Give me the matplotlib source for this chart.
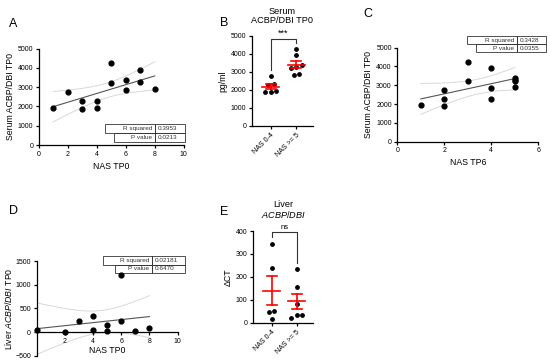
import numpy as np
import matplotlib
matplotlib.use('Agg')
import matplotlib.pyplot as plt
from matplotlib.patches import Rectangle

plt.rcParams['font.family'] = ['Liberation Sans', 'DejaVu Sans']
plt.rcParams['mathtext.fontset'] = 'custom'
plt.rcParams['mathtext.it'] = 'Liberation Sans:italic'
plt.rcParams['mathtext.rm'] = 'Liberation Sans'

# ---- data ----
# A: serum ACBP/DBI TP0 vs NAS TP0
nasA = [1, 2, 3, 3, 4, 4, 5, 5, 6, 6, 7, 7, 8]
serumA = [1940, 2750, 2300, 1890, 2270, 1900, 4250, 3220, 3390, 2840, 3910, 3270, 2890]
statsA = ['0.3953', '0.0213']

# C: serum ACBP/DBI TP0 vs NAS TP6
nasC = [1, 2, 2, 2, 3, 3, 4, 4, 4, 5, 5, 5, 5]
serumC = [1940, 2760, 2290, 1880, 4250, 3230, 3920, 2840, 2270, 3400, 3300, 3250, 2900]
statsC = ['0.3428', '0.0355']

# D: liver ACBP/DBI TP0 vs NAS TP0
nasD = [0, 2, 3, 4, 4, 5, 5, 6, 6, 7, 8]
liverD = [45, 10, 232, 338, 45, 148, 20, 1210, 226, 25, 75]
statsD = ['0.02181', '0.6470']

# B: grouped serum (NAS 0-4 vs NAS >= 5)
groups = ['NAS 0-4', 'NAS >= 5']
# E: liver dCT
dctLow = [345, 238, 52, 47, 18]
dctHigh = [233, 155, 80, 33, 33, 22]

stat_labels = ['R squared', 'P value']

W, H = 550, 362
fig = plt.figure(figsize=(5.5, 3.62), dpi=100)

TICK = 5
LAB = 6.3


def ax_px(l, r, t, b):
    return fig.add_axes([l / W, (H - b) / H, (r - l) / W, (b - t) / H])


def style(ax):
    for s in ['top', 'right']:
        ax.spines[s].set_visible(False)
    for s in ['left', 'bottom']:
        ax.spines[s].set_linewidth(0.9)
    ax.tick_params(labelsize=TICK, width=0.9, length=2.5, pad=1.5)


def regress(ax, x, y):
    x = np.asarray(x, float); y = np.asarray(y, float)
    n = len(x)
    b, a = np.polyfit(x, y, 1)
    xs = np.linspace(x.min(), x.max(), 100)
    yh = a + b * xs
    res = y - (a + b * x)
    s = np.sqrt(np.sum(res ** 2) / (n - 2))
    se = s * np.sqrt(1 / n + (xs - x.mean()) ** 2 / np.sum((x - x.mean()) ** 2))
    t = 2.2  # ~t(0.975, n-2)
    ax.plot(xs, yh + t * se, color='#d8d8d8', lw=0.7, zorder=1)
    ax.plot(xs, yh - t * se, color='#d8d8d8', lw=0.7, zorder=1)
    ax.plot(xs, yh, color='#555555', lw=0.8, zorder=2)
    ax.scatter(x, y, s=12, color='black', zorder=3, clip_on=False)


def stat_table(ax, vals, x0r, x0p, xdiv, x1, ytop, ymid, ybot):
    rows = [(x0r, ytop, ymid), (x0p, ymid, ybot)]
    for (x0, yt, yb), lab, v in zip(rows, stat_labels, vals):
        for xa, xb in [(x0, xdiv), (xdiv, x1)]:
            ax.add_patch(Rectangle((xa, yb), xb - xa, yt - yb, transform=ax.transAxes,
                                   fill=False, lw=0.6, ec='#333333', clip_on=False))
        ax.text(xdiv - 0.02, (yt + yb) / 2, lab, transform=ax.transAxes, ha='right',
                va='center', fontsize=4.6, color='#333333')
        ax.text(xdiv + 0.02, (yt + yb) / 2, v, transform=ax.transAxes, ha='left',
                va='center', fontsize=4.6, color='#333333')


def swarm(vals, thr, d=0.22):
    order = np.argsort(vals)
    v = np.asarray(vals, float)[order]
    clusters, cur = [], [0]
    for i in range(1, len(v)):
        if v[i] - v[i - 1] < thr:
            cur.append(i)
        else:
            clusters.append(cur); cur = [i]
    clusters.append(cur)
    offs = np.zeros(len(v))
    for c in clusters:
        for k, i in enumerate(c):
            offs[i] = (k - (len(c) - 1) / 2) * d
    out = np.zeros(len(v))
    out[order] = offs
    return out


def dotplot(ax, data, thr):
    for i, vals in enumerate(data):
        vals = np.asarray(vals, float)
        ax.scatter(i + swarm(vals, thr), vals, s=6, color='black', zorder=2)
        m = vals.mean()
        sem = vals.std(ddof=1) / np.sqrt(len(vals))
        ax.plot([i - 0.33, i + 0.33], [m, m], color='red', lw=1.2, zorder=3)
        ax.plot([i, i], [m - sem, m + sem], color='red', lw=1.2, zorder=3)
        for yy in (m - sem, m + sem):
            ax.plot([i - 0.2, i + 0.2], [yy, yy], color='red', lw=1.2, zorder=3)
    ax.set_xlim(-0.74, 1.65)
    ax.set_xticks([0, 1])
    ax.set_xticklabels(groups, rotation=45, ha='right', rotation_mode='anchor')


# ---- A ----
axA = ax_px(38.7, 183.7, 48.7, 145)
style(axA)
regress(axA, nasA, serumA)
axA.set_xlim(0, 10); axA.set_ylim(0, 5000)
axA.set_xticks(range(0, 11, 2)); axA.set_yticks(range(0, 5001, 1000))
axA.set_xlabel('NAS TP0', fontsize=LAB, labelpad=3)
axA.set_ylabel('Serum ACBP/DBI TP0', fontsize=LAB, labelpad=2)
stat_table(axA, statsA, 0.457, 0.519, 0.802, 1.009, 0.218, 0.125, 0.031)

# ---- B ----
axB = ax_px(251.7, 313, 35.7, 126)
style(axB)
nA = np.asarray(nasA); sA = np.asarray(serumA, float)
dotplot(axB, [sA[nA < 5], sA[nA >= 5]], 200)
axB.set_ylim(0, 5000); axB.set_yticks(range(0, 5001, 1000))
axB.set_ylabel('pg/ml', fontsize=LAB, labelpad=2)
axB.set_title('Serum\nACBP/DBI TP0', fontsize=LAB + 0.3, pad=9, linespacing=1.1)
axB.plot([0, 0, 1, 1], [3100, 4820, 4820, 4580], color='#333333', lw=0.8, clip_on=False)
axB.text(0.5, 4870, '***', ha='center', va='bottom', fontsize=6.5)

# ---- C ----
axC = ax_px(397.3, 538.3, 47.7, 141.7)
style(axC)
regress(axC, nasC, serumC)
axC.set_xlim(0, 6); axC.set_ylim(0, 5000)
axC.set_xticks(range(0, 7, 2)); axC.set_yticks(range(0, 5001, 1000))
axC.set_xlabel('NAS TP6', fontsize=LAB, labelpad=3)
axC.set_ylabel('Serum ACBP/DBI TP0', fontsize=LAB, labelpad=2)
stat_table(axC, statsC, 0.494, 0.558, 0.848, 1.058, 1.124, 1.039, 0.954)

# ---- D ----
axD = ax_px(36.6, 177.6, 261, 355.7)
style(axD)
axD.spines['bottom'].set_position(('data', 0))
regress(axD, nasD, liverD)
axD.set_xlim(0, 10); axD.set_ylim(-500, 1500)
axD.set_xticks(range(2, 11, 2)); axD.set_yticks(range(-500, 1501, 500))
axD.set_xlabel('NAS TP0', fontsize=LAB, labelpad=1)
axD.set_ylabel('Liver $\\it{ACBP/DBI}$ TP0', fontsize=LAB, labelpad=1)
stat_table(axD, statsD, 0.473, 0.558, 0.818, 1.052, 1.053, 0.961, 0.872)

# ---- E ----
axE = ax_px(253, 313, 231, 322.7)
style(axE)
dotplot(axE, [dctLow, dctHigh], 16)
axE.set_ylim(0, 400); axE.set_yticks(range(0, 401, 100))
axE.set_ylabel('ΔCT', fontsize=LAB, labelpad=2)
axE.set_title('Liver\n$\\it{ACBP/DBI}$', fontsize=LAB + 0.3, pad=9, linespacing=1.1)
axE.plot([0, 0, 1, 1], [372, 394, 394, 262], color='#333333', lw=0.8, clip_on=False)
axE.text(0.5, 402, 'ns', ha='center', va='bottom', fontsize=5.5)

# panel letters
for lab, (px, py) in zip('ABCDE', [(13, 24), (224, 23), (368, 14), (13, 211), (224, 212)]):
    fig.text(px / W, 1 - py / H, lab, fontsize=9, ha='center', va='center')

fig.savefig('out.png', dpi=100)
